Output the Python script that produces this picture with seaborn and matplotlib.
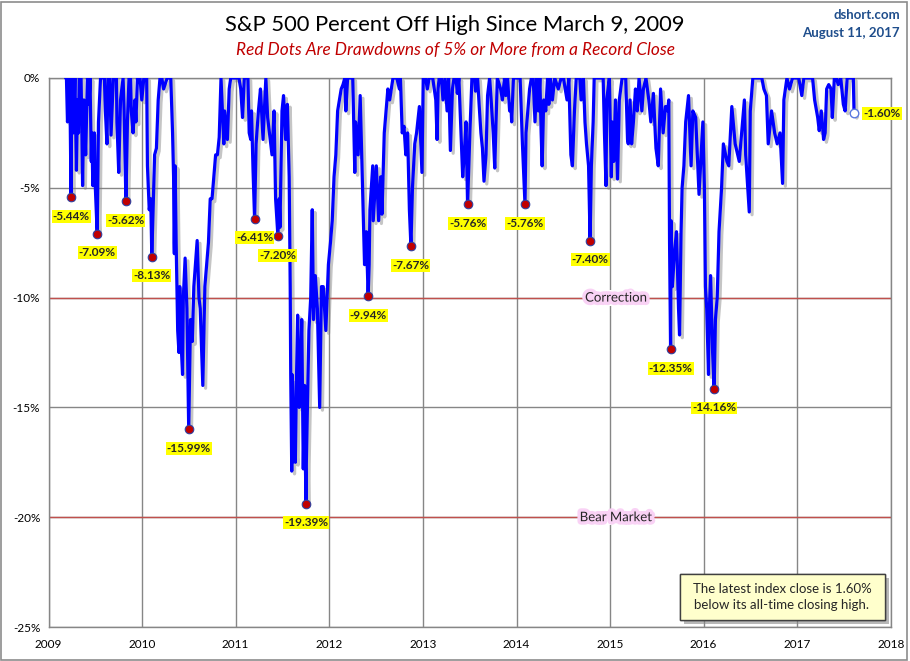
import matplotlib
matplotlib.use("Agg")
import matplotlib.pyplot as plt
import matplotlib.patheffects as pe
from matplotlib.patches import Rectangle, FancyBboxPatch
import seaborn as sns
import pandas as pd

# -----------------------------
# Data: percent off the running high (month-day, pct)
# -----------------------------
pts_2009 = [("03-09", 0), ("03-12", 0), ("03-16", -2.0), ("03-19", -1.5), ("03-23", 0), ("03-26", -1.2),
            ("03-30", -5.44), ("04-02", 0), ("04-06", -1.5), ("04-08", -2.5), ("04-14", 0), ("04-20", -4.2),
            ("04-24", -1.0), ("04-28", -2.5), ("05-01", 0), ("05-08", 0), ("05-11", -2.2), ("05-14", -4.9),
            ("05-19", -1.0), ("05-26", -3.5), ("06-02", 0), ("06-08", -1.2), ("06-12", 0), ("06-17", -3.8),
            ("06-19", -2.5), ("06-23", -4.9), ("06-29", -2.5), ("07-02", -4.8), ("07-10", -7.09), ("07-15", -2.0),
            ("07-23", 0), ("07-31", 0), ("08-07", 0), ("08-11", -1.5), ("08-17", -3.0), ("08-21", 0),
            ("08-28", 0), ("09-02", -2.6), ("09-11", 0), ("09-18", 0), ("09-23", 0), ("09-25", -2.0),
            ("10-02", -4.3), ("10-09", -1.0), ("10-19", 0), ("10-23", -1.5), ("10-30", -5.62), ("11-05", -2.0),
            ("11-11", 0), ("11-17", 0), ("11-20", -1.5), ("11-27", -2.5), ("12-04", -1.0), ("12-08", -2.0),
            ("12-14", 0), ("12-24", 0), ("12-31", -1.0)]
pts_2010 = [("01-08", 0), ("01-19", 0), ("01-22", -4.0), ("01-29", -6.0), ("02-04", -5.5), ("02-08", -8.13),
            ("02-12", -6.5), ("02-19", -3.5), ("02-26", -3.2), ("03-05", -1.0), ("03-12", 0), ("03-19", 0),
            ("03-26", -0.5), ("04-09", 0), ("04-15", 0), ("04-23", 0), ("04-30", -2.5), ("05-04", -4.5),
            ("05-06", -7.5), ("05-07", -8.0), ("05-10", -4.0), ("05-14", -7.5), ("05-20", -11.5), ("05-25", -12.5),
            ("05-28", -9.5), ("06-04", -12.5), ("06-08", -13.5), ("06-11", -10.0), ("06-18", -8.2), ("06-25", -10.5),
            ("06-30", -14.5), ("07-02", -15.99), ("07-09", -11.0), ("07-16", -12.0), ("07-22", -9.5), ("08-04", -7.4),
            ("08-11", -10.0), ("08-16", -10.5), ("08-26", -14.0), ("09-03", -9.5), ("09-10", -8.5), ("09-17", -7.5),
            ("09-24", -5.5), ("10-01", -5.5), ("10-08", -4.5), ("10-15", -3.5), ("10-22", -3.5), ("10-29", -2.7),
            ("11-05", 0), ("11-16", -3.0), ("11-19", -1.5), ("11-30", -2.8), ("12-07", -0.5), ("12-13", 0),
            ("12-22", 0), ("12-31", 0)]
pts_2011 = [("01-07", 0), ("01-14", 0), ("01-21", -0.5), ("01-28", -1.8), ("02-04", 0), ("02-18", 0),
            ("02-23", -2.5), ("03-01", -2.8), ("03-04", -1.5), ("03-10", -4.2), ("03-16", -6.41), ("03-22", -3.0),
            ("03-31", -1.5), ("04-08", -0.5), ("04-18", -2.8), ("04-29", 0), ("05-06", -1.8), ("05-16", -2.8),
            ("05-23", -3.5), ("05-31", -1.5), ("06-06", -5.5), ("06-15", -7.20), ("06-20", -5.5), ("06-23", -6.8),
            ("07-01", -1.5), ("07-07", -0.8), ("07-15", -2.8), ("07-22", -1.2), ("07-29", -4.5), ("08-02", -9.5),
            ("08-04", -13.5), ("08-08", -17.9), ("08-09", -13.5), ("08-10", -17.5), ("08-11", -13.8), ("08-18", -17.0),
            ("08-22", -17.5), ("08-26", -14.0), ("08-31", -10.8), ("09-06", -15.0), ("09-09", -14.5), ("09-16", -11.0),
            ("09-22", -17.8), ("09-27", -14.0), ("09-30", -17.5), ("10-03", -19.39), ("10-04", -17.5), ("10-10", -14.0),
            ("10-14", -11.5), ("10-21", -10.0), ("10-27", -6.0), ("11-01", -11.0), ("11-08", -9.0), ("11-16", -10.5),
            ("11-25", -15.0), ("12-02", -9.5), ("12-09", -9.5), ("12-19", -11.5), ("12-29", -8.5)]
pts_2012 = [("01-06", -7.5), ("01-13", -6.5), ("01-20", -4.5), ("01-27", -3.5), ("02-03", -1.5), ("02-10", -1.0),
            ("02-17", -0.5), ("02-24", -0.3), ("03-02", 0), ("03-06", -1.5), ("03-13", 0), ("03-26", 0),
            ("04-02", 0), ("04-10", -4.3), ("04-13", -2.0), ("04-23", -3.5), ("05-01", -0.8), ("05-09", -4.5),
            ("05-18", -8.5), ("05-25", -7.0), ("06-01", -9.94), ("06-05", -8.5), ("06-08", -6.0), ("06-19", -4.0),
            ("06-21", -6.5), ("07-03", -4.0), ("07-12", -6.5), ("07-20", -4.5), ("07-25", -6.2), ("08-03", -2.5),
            ("08-10", -1.5), ("08-17", -0.5), ("08-24", -1.0), ("09-06", 0), ("09-14", 0), ("09-21", 0),
            ("10-01", -0.5), ("10-05", 0), ("10-12", -2.5), ("10-19", -2.2), ("10-26", -3.5), ("11-02", -2.5),
            ("11-09", -6.0), ("11-15", -7.67), ("11-21", -5.0), ("11-30", -3.0), ("12-07", -2.5), ("12-18", -1.3),
            ("12-28", -4.3)]
pts_2013 = [("01-02", 0), ("01-11", 0), ("01-18", -0.5), ("01-25", 0), ("02-01", 0), ("02-08", 0),
            ("02-20", -1.0), ("02-25", -2.8), ("03-01", -0.5), ("03-05", 0), ("03-14", 0), ("03-20", -1.0),
            ("03-28", 0), ("04-05", -1.5), ("04-11", 0), ("04-18", -3.3), ("04-26", -0.5), ("05-02", 0),
            ("05-10", 0), ("05-15", -0.7), ("05-21", 0), ("05-31", -3.0), ("06-05", -4.5), ("06-11", -3.5),
            ("06-18", -2.0), ("06-24", -5.76), ("07-03", -2.5), ("07-11", 0), ("07-22", 0), ("07-25", -0.6),
            ("08-02", 0), ("08-08", -1.2), ("08-15", -2.5), ("08-21", -3.2), ("08-27", -4.7), ("09-04", -3.5),
            ("09-10", -0.8), ("09-18", 0), ("09-24", -1.0), ("10-02", -2.5), ("10-08", -4.1), ("10-18", 0),
            ("10-31", -0.5), ("11-07", -1.0), ("11-15", 0), ("11-20", -0.8), ("11-27", 0), ("12-05", -1.5),
            ("12-10", -1.2), ("12-13", -2.0), ("12-20", 0), ("12-31", 0)]
pts_2014 = [("01-08", 0), ("01-15", 0), ("01-24", -3.0), ("02-03", -5.76), ("02-07", -2.5), ("02-21", -0.5),
            ("02-28", 0), ("03-07", 0), ("03-14", -2.0), ("03-21", 0), ("03-27", -1.5), ("04-02", 0),
            ("04-07", -2.5), ("04-11", -4.0), ("04-17", -1.0), ("04-25", -1.5), ("05-02", 0), ("05-07", -1.2),
            ("05-13", 0), ("05-21", -1.0), ("05-30", 0), ("06-13", -0.5), ("06-24", 0), ("07-03", 0),
            ("07-17", -1.0), ("07-24", 0), ("08-01", -3.5), ("08-07", -4.0), ("08-15", -1.5), ("08-22", 0),
            ("09-05", 0), ("09-10", -1.0), ("09-19", 0), ("09-25", -2.0), ("10-01", -3.0), ("10-09", -4.0),
            ("10-15", -7.40), ("10-20", -4.0), ("10-27", -2.0), ("10-31", 0), ("11-14", 0), ("11-28", 0),
            ("12-05", 0), ("12-10", -2.5), ("12-16", -4.9), ("12-19", -1.0), ("12-29", 0)]
pts_2015 = [("01-06", -4.5), ("01-09", -2.0), ("01-15", -3.8), ("01-22", -1.0), ("01-30", -4.6), ("02-06", -1.0),
            ("02-17", 0), ("02-25", 0), ("03-03", 0), ("03-10", -2.8), ("03-13", -3.0), ("03-20", -1.0),
            ("03-26", -3.0), ("04-02", -2.0), ("04-10", -0.5), ("04-17", -1.5), ("04-24", 0), ("05-05", -1.5),
            ("05-11", -0.5), ("05-21", 0), ("06-01", -1.0), ("06-09", -2.0), ("06-19", -0.7), ("06-29", -3.2),
            ("07-08", -4.0), ("07-17", -0.5), ("07-27", -2.5), ("08-05", -1.3), ("08-13", -1.5), ("08-18", -1.0),
            ("08-20", -5.0), ("08-21", -7.5), ("08-24", -11.2), ("08-25", -12.35), ("08-27", -6.5), ("09-01", -9.5),
            ("09-09", -8.0), ("09-17", -7.0), ("09-25", -10.5), ("09-29", -11.7), ("10-05", -7.0), ("10-09", -5.0),
            ("10-16", -4.0), ("10-23", -2.0), ("11-03", -0.8), ("11-13", -4.0), ("11-20", -1.5), ("12-01", -1.8),
            ("12-14", -5.3), ("12-29", -2.0)]
pts_2016 = [("01-04", -5.0), ("01-08", -9.5), ("01-13", -10.5), ("01-20", -13.5), ("01-22", -11.0), ("01-28", -9.0),
            ("02-05", -12.5), ("02-11", -14.16), ("02-16", -11.0), ("02-23", -10.0), ("03-01", -7.0), ("03-11", -5.0),
            ("03-18", -3.0), ("04-01", -3.8), ("04-08", -4.0), ("04-20", -1.3), ("05-03", -3.0), ("05-19", -3.8),
            ("06-08", -1.0), ("06-13", -3.5), ("06-27", -6.1), ("07-01", -1.5), ("07-11", 0), ("07-22", 0),
            ("08-05", 0), ("08-15", 0), ("08-23", -0.5), ("09-02", -0.8), ("09-09", -3.0), ("09-22", -1.5),
            ("10-04", -2.5), ("10-14", -3.0), ("10-25", -2.5), ("11-04", -4.8), ("11-09", -1.0), ("11-21", 0),
            ("12-01", -0.5), ("12-13", 0), ("12-23", 0)]
pts_2017 = [("01-06", 0), ("01-18", -0.8), ("01-26", 0), ("02-10", 0), ("02-28", 0), ("03-01", 0),
            ("03-09", -1.0), ("03-21", -1.8), ("03-27", -2.4), ("04-04", -1.5), ("04-13", -2.8), ("04-19", -2.5),
            ("04-25", -0.5), ("05-03", -0.3), ("05-12", -0.5), ("05-17", -1.8), ("05-25", 0), ("06-02", 0),
            ("06-09", -0.3), ("06-19", 0), ("06-29", -1.2), ("07-06", -1.5), ("07-14", 0), ("07-26", 0),
            ("08-02", 0), ("08-07", 0), ("08-10", -1.7), ("08-11", -1.60)]

# Drawdowns of 5% or more from a record close (red dots)
drawdown_dates = ["2009-03-30", "2009-07-10", "2009-10-30", "2010-02-08", "2010-07-02", "2011-03-16",
                  "2011-06-15", "2011-10-03", "2012-06-01", "2012-11-15", "2013-06-24", "2014-02-03",
                  "2014-10-15", "2015-08-25", "2016-02-11"]
drawdown_pct = [-5.44, -7.09, -5.62, -8.13, -15.99, -6.41, -7.20, -19.39, -9.94, -7.67, -5.76, -5.76,
                -7.40, -12.35, -14.16]

latest_date = "2017-08-11"
latest_pct = -1.60

years = list(range(2009, 2019))
y_ticks = [0, -5, -10, -15, -20, -25]
y_tick_labels = ["0%", "-5%", "-10%", "-15%", "-20%", "-25%"]

# -----------------------------
# Frames
# -----------------------------
rows = []
for yr, pts in zip(range(2009, 2018), [pts_2009, pts_2010, pts_2011, pts_2012, pts_2013,
                                       pts_2014, pts_2015, pts_2016, pts_2017]):
    for md, v in pts:
        rows.append((pd.Timestamp(f"{yr}-{md}"), v))
line_df = pd.DataFrame(rows, columns=["date", "pct"])
dd_df = pd.DataFrame({"date": pd.to_datetime(drawdown_dates), "pct": drawdown_pct})
last_df = pd.DataFrame({"date": [pd.Timestamp(latest_date)], "pct": [latest_pct]})

# -----------------------------
# Plot
# -----------------------------
sns.set_style("white")
plt.rcParams["font.family"] = ["Lato", "DejaVu Sans"]

W, H = 910, 661
fig = plt.figure(figsize=(W / 100, H / 100), dpi=100)
ax = fig.add_axes([48.5 / W, 1 - 627 / H, (891 - 48.5) / W, (627 - 78) / H])

grid_col = "#868686"
red_line = "#c0504d"

sns.lineplot(data=line_df, x="date", y="pct", ax=ax, color="#0000ff", lw=2.3, zorder=4,
             path_effects=[pe.SimpleLineShadow(offset=(2, -2), shadow_color="#7f7f7f", alpha=0.45),
                           pe.Normal()])
sns.scatterplot(data=dd_df, x="date", y="pct", ax=ax, color="#c00000", edgecolor="#3040a0",
                s=38, linewidth=0.8, zorder=6)
sns.scatterplot(data=last_df, x="date", y="pct", ax=ax, color="white", edgecolor="#5a78e0",
                s=38, linewidth=1.0, zorder=6)

ax.set_xlim(pd.Timestamp("2009-01-01"), pd.Timestamp("2018-01-01"))
ax.set_ylim(-25, 0)
ax.set_xticks([pd.Timestamp(f"{y}-01-01") for y in years])
ax.set_xticklabels([str(y) for y in years])
ax.set_yticks(y_ticks)
ax.set_yticklabels(y_tick_labels)
ax.set_xlabel("")
ax.set_ylabel("")
ax.grid(True, color=grid_col, lw=1)
ax.set_axisbelow(True)
for s in ax.spines.values():
    s.set_color(grid_col)
    s.set_linewidth(1)
ax.tick_params(length=0, labelsize=8.5, colors="#000000")
ax.tick_params(axis="y", pad=6)
ax.tick_params(axis="x", pad=9)

ax.axhline(-10, color=red_line, lw=1.0, zorder=2)
ax.axhline(-20, color=red_line, lw=1.0, zorder=2)

glow = [pe.withStroke(linewidth=5, foreground="#f9d2f5")]
ax.text(0.6736, -10, "Correction", transform=ax.get_yaxis_transform(), ha="center", va="center",
        fontsize=9.5, zorder=5, path_effects=glow,
        bbox=dict(boxstyle="square,pad=0.15", fc="white", ec="none"))
ax.text(0.6736, -20, "Bear Market", transform=ax.get_yaxis_transform(), ha="center", va="center",
        fontsize=9.5, zorder=5, path_effects=glow,
        bbox=dict(boxstyle="square,pad=0.15", fc="white", ec="none"))

# drawdown labels
for d, v in zip(dd_df["date"], dd_df["pct"]):
    ax.annotate(f"{v:.2f}%", (d, v), xytext=(0, -19), textcoords="offset pixels",
                ha="center", va="center", fontsize=8.5, fontweight="bold", zorder=7,
                bbox=dict(boxstyle="square,pad=0.08", fc="#ffff00", ec="none"))
ax.annotate(f"{latest_pct:.2f}%", (last_df["date"][0], latest_pct), xytext=(9, 0),
            textcoords="offset pixels", ha="left", va="center", fontsize=8.5, fontweight="bold",
            zorder=7, annotation_clip=False,
            bbox=dict(boxstyle="square,pad=0.08", fc="#ffff00", ec="none"))

# titles
fig.text(455 / W, 1 - 25 / H, "S&P 500 Percent Off High Since March 9, 2009", ha="center", va="center",
         fontsize=15.8, color="black")
fig.text(456 / W, 1 - 50 / H, "Red Dots Are Drawdowns of 5% or More from a Record Close", ha="center",
         va="center", fontsize=12.4, style="italic", color="#c00000")
fig.text(900 / W, 1 - 15 / H, "dshort.com", ha="right", va="center", fontsize=9.5, color="#1f4e8c",
         fontweight="bold")
fig.text(900 / W, 1 - 33 / H, "August 11, 2017", ha="right", va="center", fontsize=9.5, color="#1f4e8c",
         fontweight="bold")

# note box
box = FancyBboxPatch((680 / W, 1 - 620 / H), 205 / W, 46 / H, boxstyle="square,pad=0",
                     transform=fig.transFigure, fc="#ffffcc", ec="#404040", lw=1, zorder=8,
                     path_effects=[pe.withSimplePatchShadow(offset=(3, -3), shadow_rgbFace="#8a8a8a", alpha=0.6),
                                   pe.Normal()])
fig.patches.append(box)
fig.text(782 / W, 1 - 597 / H, "The latest index close is 1.60%\nbelow its all-time closing high.",
         ha="center", va="center", fontsize=9.5, linespacing=1.35, zorder=9)

# outer frame
fig.patches.append(Rectangle((0.5 / W, 1.5 / H), 906 / W, 658 / H, transform=fig.transFigure,
                             fill=False, ec="#8c8c8c", lw=1.2))

fig.savefig("out.png", dpi=100)
